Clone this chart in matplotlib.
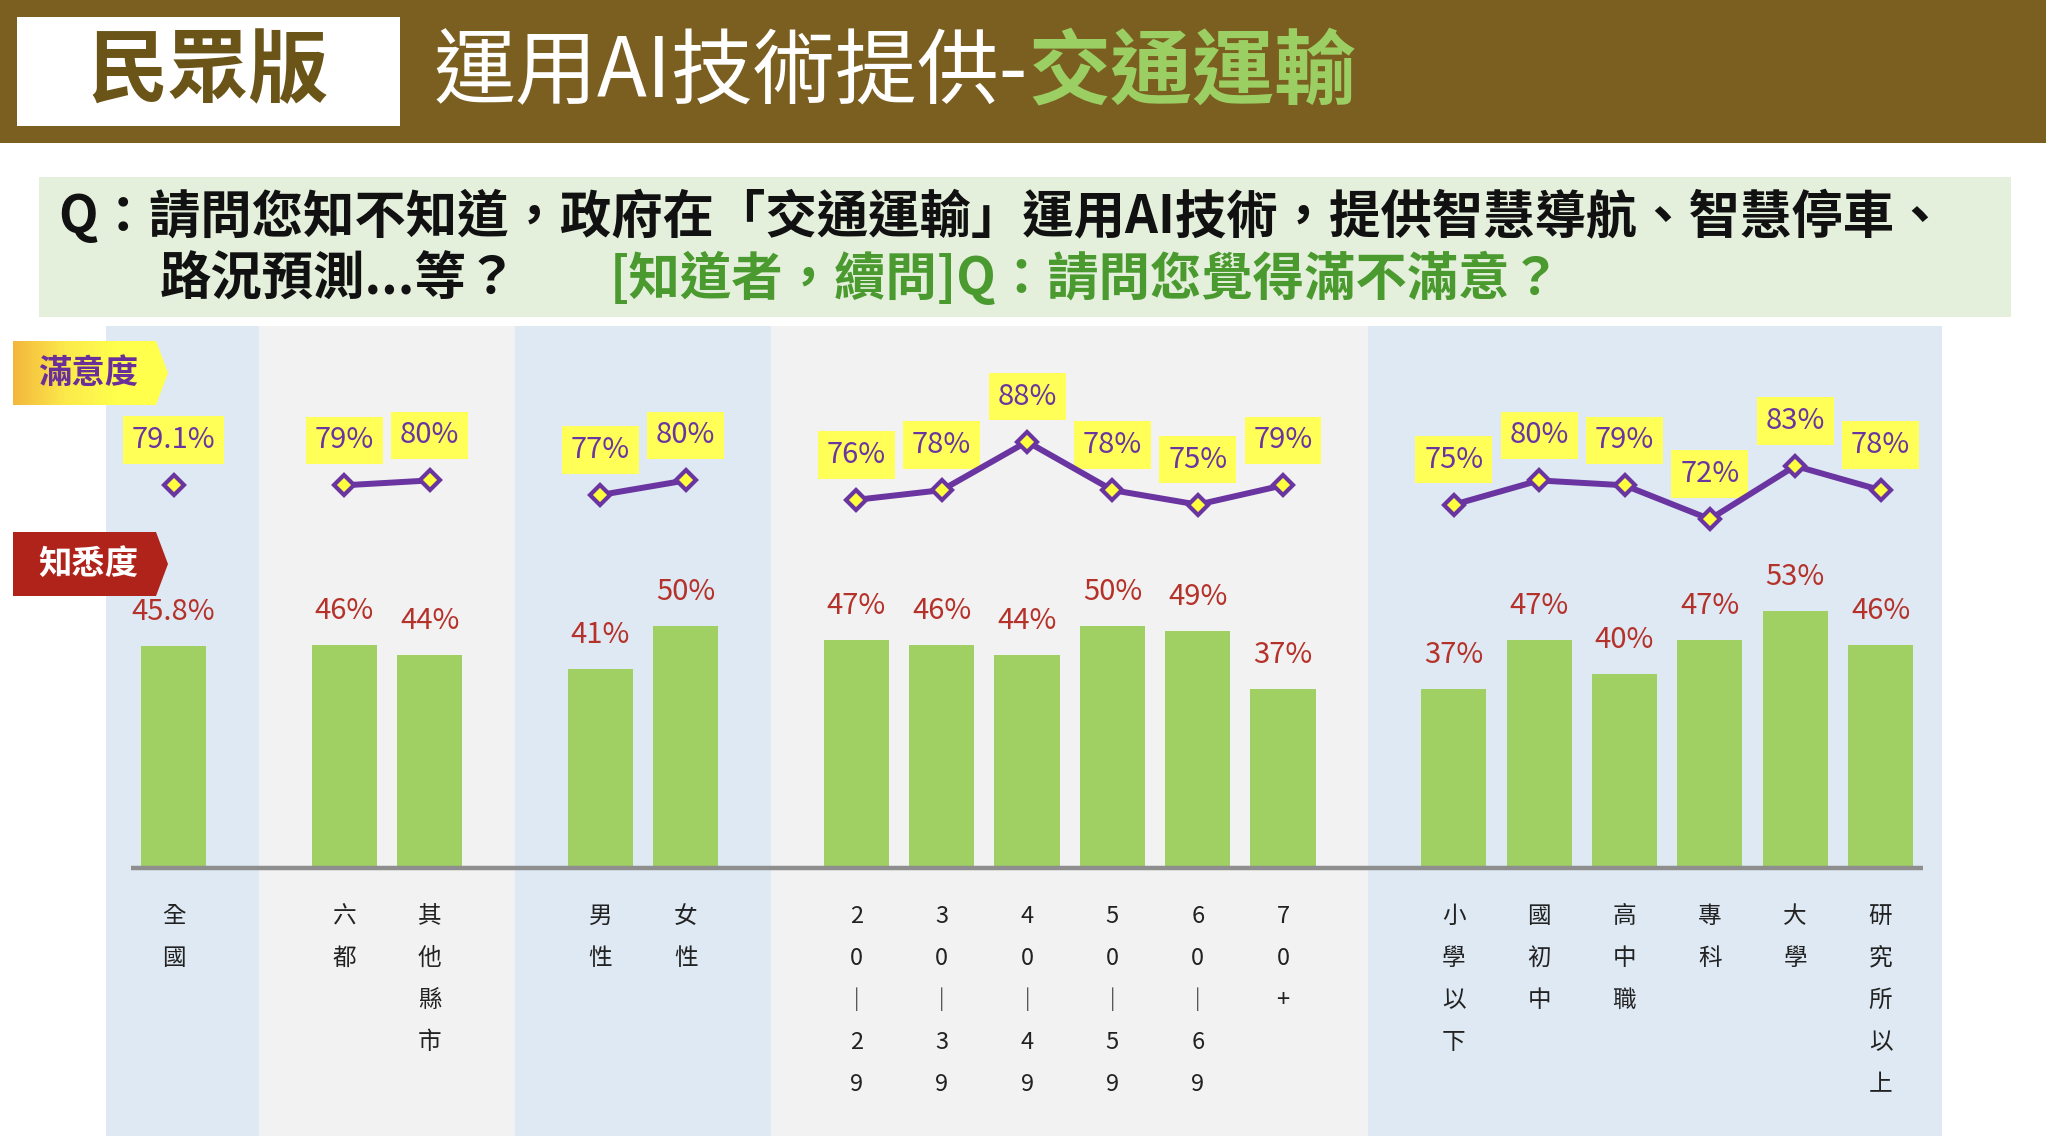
import numpy as np
import matplotlib
matplotlib.use('Agg')
import matplotlib.pyplot as plt
from matplotlib.patches import Rectangle, Polygon
from matplotlib.colors import LinearSegmentedColormap

plt.rcParams['font.family'] = ['Noto Sans CJK TC', 'DejaVu Sans']

# data
categories = ['全國', '六都', '其他縣市', '男性', '女性',
              '20-29', '30-39', '40-49', '50-59', '60-69', '70+',
              '小學以下', '國初中', '高中職', '專科', '大學', '研究所以上']
group_sizes = [1, 2, 2, 6, 6]
awareness = [45.8, 46, 44, 41, 50, 47, 46, 44, 50, 49, 37, 37, 47, 40, 47, 53, 46]
satisfaction = [79.1, 79, 80, 77, 80, 76, 78, 88, 78, 75, 79, 75, 80, 79, 72, 83, 78]

title_left = '運用AI技術提供-'
title_right = '交通運輸'
question_1 = 'Q：請問您知不知道，政府在「交通運輸」運用AI技術，提供智慧導航、智慧停車、'
question_2 = '路況預測...等？'
question_3 = '[知道者，續問]Q：請問您覺得滿不滿意？'

# colours
BROWN = '#7B5F20'
BAR = '#A0CF63'
PURPLE = '#6A35A0'
RED_TXT = '#B5322A'
LABEL_BG = '#FFFF57'

W, H = 2046, 1144
fig = plt.figure(figsize=(W / 100, H / 100), dpi=100)

# ---- header and question (pixel coordinates) ----
bg = fig.add_axes([0, 0, 1, 1], zorder=0)
bg.axis('off')
bg.add_patch(Rectangle((0, 0), W, 143, color=BROWN, lw=0))
bg.add_patch(Rectangle((17, 17), 383, 109, color='white', lw=0))
bg.text(208, 73, '民眾版', fontsize=58, fontweight='bold', color='#6A5418',
        ha='center', va='center')
t1 = bg.text(434, 74, title_left, fontsize=59, color='white', ha='left', va='center')
bg.annotate(title_right, xy=(1, 0.5), xycoords=t1, ha='left', va='center',
            fontsize=59, fontweight='bold', color='#9BCF64')

bg.add_patch(Rectangle((39, 177), 1972, 140, color='#E4EFDC', lw=0))
bg.text(58, 217, question_1, fontsize=37, fontweight='bold', color='#111111', va='center')
bg.text(160, 279, question_2, fontsize=37, fontweight='bold', color='#111111', va='center')
bg.text(610, 279, question_3, fontsize=37, fontweight='bold', color='#4A9A2F', va='center')
bg.set_xlim(0, W)
bg.set_ylim(H, 0)

# ---- chart ----
pos = []
gaps = []
s = 0
for size in group_sizes:
    pos.append(list(range(s, s + size)))
    s += size + 1
    gaps.append(s - 1)
flat_pos = [p for g in pos for p in g]

ax = fig.add_axes([106 / W, 1 - 1136 / H, 1836 / W, 810 / H], zorder=1)
ax.axis('off')

edges = [-0.8] + gaps[:-1] + [20.72]
for i in range(len(edges) - 1):
    ax.axvspan(edges[i], edges[i + 1], color=['#DEE9F4', '#F2F2F2'][i % 2], lw=0, zorder=0)

ax.bar(flat_pos, awareness, width=0.765, color=BAR, zorder=2)
ax.plot([-0.5, flat_pos[-1] + 0.5], [0, 0], color='#8E8E8E', lw=3.2, zorder=3,
        solid_capstyle='butt')

for x, v in zip(flat_pos, awareness):
    ax.annotate(f'{v:g}%', (x, v), xytext=(0, 24.5), textcoords='offset points',
                ha='center', va='center', fontsize=21, color=RED_TXT, zorder=3)

i = 0
for g in pos:
    vals = satisfaction[i:i + len(g)]
    ax.plot(g, vals, color=PURPLE, lw=4.3, marker='D', ms=10.5, mfc='#FFFF40',
            mec=PURPLE, mew=3, zorder=5)
    i += len(g)

for x, v in zip(flat_pos, satisfaction):
    ax.annotate(f'{v:g}%', (x, v), xytext=(0, 32.4), textcoords='offset points',
                ha='center', va='center', fontsize=21, color=PURPLE, zorder=4,
                bbox=dict(boxstyle='square,pad=0.3', fc=LABEL_BG, ec='none'))

# vertical category labels
for x, name in zip(flat_pos, categories):
    for j, ch in enumerate(name.replace('-', '｜')):
        ax.text(x, -10.1 - j * 8.68, ch, ha='center', va='center',
                fontsize=17, color='#222222', zorder=3)

ax.set_xlim(-0.792, 20.72)
ax.set_ylim(-55.4, 111.9)

# ---- badges on the left ----
top = fig.add_axes([0, 0, 1, 1], zorder=2)
top.axis('off')
p1 = Polygon([(13, 341), (156, 341), (168, 373), (156, 405), (13, 405)],
             closed=True, fc='none', ec='none')
top.add_patch(p1)
cmap = LinearSegmentedColormap.from_list('badge', ['#F3B63C', '#FCE94A', '#FFFF4C', '#FFFF4C'])
im = top.imshow(np.linspace(0, 1, 256).reshape(1, -1), extent=(13, 168, 405, 341),
                cmap=cmap, aspect='auto', zorder=1)
im.set_clip_path(p1)
top.text(88, 373, '滿意度', fontsize=24, fontweight='bold', color='#6B2F99',
         ha='center', va='center', zorder=2)

top.add_patch(Polygon([(13, 532), (156, 532), (168, 564), (156, 596), (13, 596)],
                      closed=True, fc='#B0231A', ec='none'))
top.text(88, 564, '知悉度', fontsize=24, fontweight='bold', color='white',
         ha='center', va='center', zorder=2)
top.set_xlim(0, W)
top.set_ylim(H, 0)

fig.savefig('out.png', dpi=100)
